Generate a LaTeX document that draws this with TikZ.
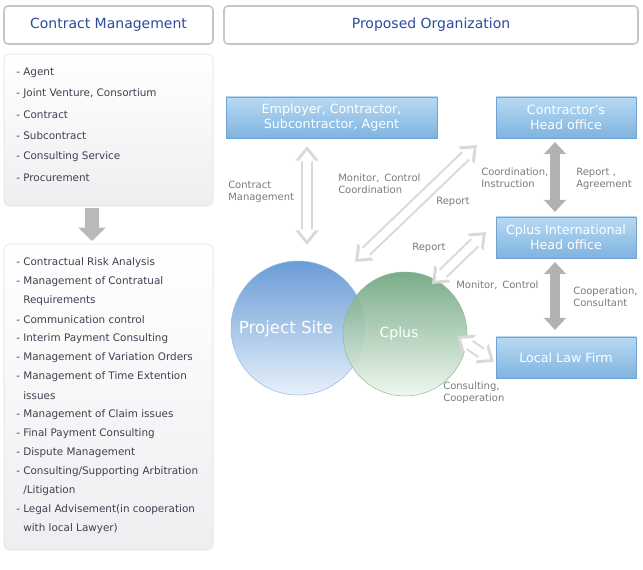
\documentclass[tikz,border=0pt]{standalone}
\usepackage{fontspec}
\setmainfont{DejaVu Sans}
\usetikzlibrary{arrows.meta,shadings}
\definecolor{hdr}{HTML}{2B4C9A}
\definecolor{lbl}{HTML}{7A7A7A}
\definecolor{txt}{HTML}{3A4250}
\definecolor{bbox}{HTML}{7FB3E0}
\definecolor{bboxtop}{HTML}{B8D9F2}
\definecolor{bedge}{HTML}{6FA3D3}
\definecolor{pstop}{HTML}{6A9CD6}
\definecolor{psbot}{HTML}{E6F0FA}
\definecolor{cptop}{HTML}{6FA57F}
\definecolor{cpbot}{HTML}{EEF6EE}
\begin{document}
\begin{tikzpicture}[x=0.75pt,y=-0.75pt,
  head/.style={draw=gray!45,line width=1.2pt,rounded corners=3pt,fill=white,text=hdr,font=\fontsize{10.5}{12}\selectfont},
  panel/.style={draw=gray!25,rounded corners=4pt,top color=white,bottom color=blue!8!gray!12},
  blu/.style={draw=bedge,top color=bboxtop,bottom color=bbox,text=white,font=\fontsize{9.5}{11}\selectfont,align=center},
  item/.style={anchor=west,text=txt,font=\fontsize{7.8}{9}\selectfont,inner sep=0},
  lab/.style={text=lbl,font=\fontsize{7.5}{9}\selectfont,align=left,inner sep=0},
  hollow/.style={line width=9pt,draw=gray!30,{Triangle[length=11pt,width=17pt]}-{Triangle[length=11pt,width=17pt]}},
  hollowin/.style={line width=6pt,draw=white,shorten <=3.5pt,shorten >=3.5pt,{Triangle[length=8pt,width=12pt]}-{Triangle[length=8pt,width=12pt]}},
  solidar/.style={line width=7pt,draw=gray!60,{Triangle[length=9pt,width=16pt]}-{Triangle[length=9pt,width=16pt]}}]
\useasboundingbox (0,0) rectangle (643,570);
\node[head,minimum width=209pt*0.75,minimum height=38pt*0.75] (h1) at (108.5,25) {Contract Management};
\node[head,minimum width=414pt*0.75,minimum height=38pt*0.75] (h2) at (431,25) {Proposed Organization};
\draw[panel] (4,54) rectangle (213,206);
\draw[panel] (4,244) rectangle (213,550);
\foreach \t [count=\i] in {Agent,{Joint Venture, Consortium},Contract,Subcontract,Consulting Service,Procurement}
  \node[item] (a\i) at (16,52+21*\i) {- \t};
\foreach \t [count=\i] in {Contractual Risk Analysis,Management of Contratual,\phantom{- }Requirements,Communication control,Interim Payment Consulting,Management of Variation Orders,Management of Time Extention,\phantom{- }issues,Management of Claim issues,Final Payment Consulting,Dispute Management,Consulting/Supporting Arbitration,\phantom{- }/Litigation,Legal Advisement(in cooperation,\phantom{- }with local Lawyer)}
  \node[item] (b\i) at (16,244+19*\i) {\ifnum\i=3\relax\else\ifnum\i=8\relax\else\ifnum\i=13\relax\else\ifnum\i=15\relax\else- \fi\fi\fi\fi\t};
\coordinate (dt) at (92,208); \coordinate (db) at (92,241);
\draw[line width=10pt,draw=gray!55,-{Triangle[length=10pt,width=20pt]}] (dt) -- (db);
% boxes
\node[blu,minimum width=211pt*0.75,minimum height=41pt*0.75] (emp) at (331.5,117.5) {Employer, Contractor,\\Subcontractor, Agent};
\node[blu,minimum width=140pt*0.75,minimum height=41pt*0.75] (con) at (566,117.5) {Contractor's\\Head office};
\node[blu,minimum width=140pt*0.75,minimum height=41pt*0.75] (cpi) at (566,237.5) {Cplus International\\Head office};
\node[blu,minimum width=140pt*0.75,minimum height=41pt*0.75] (law) at (566,357.5) {Local Law Firm};
% circles
\shade[top color=pstop,bottom color=psbot,draw=pstop!70] (298,328) circle[radius=67];
\node[text=white,font=\fontsize{12.5}{14}\selectfont] (ps) at (286,329) {Project Site};
\shade[top color=cptop,bottom color=cpbot,opacity=0.92,draw=cptop!80] (405,334) circle[radius=62];
\node[text=white,font=\fontsize{10.5}{12}\selectfont] (cp) at (399,334) {Cplus};
% hollow arrows
\coordinate (v1) at (307,146); \coordinate (v2) at (307,245);
\coordinate (d1) at (477,145); \coordinate (d2) at (355,262);
\coordinate (e1) at (486,232); \coordinate (e2) at (432,284);
\coordinate (f1) at (457,336); \coordinate (f2) at (494,362);
\foreach \p/\q in {v1/v2,d1/d2,e1/e2,f1/f2}{\draw[hollow] (\p)--(\q); \draw[hollowin] (\p)--(\q);}
\draw[solidar] (555,142) coordinate (c1) -- (555,212) coordinate (c2);
\draw[solidar] (555,262) coordinate (c3) -- (555,330) coordinate (c4);
% labels
\node[lab,anchor=west] (l1) at (228,192) {Contract\\Management};
\node[lab,anchor=west] (l2) at (338,184) {Monitor,\, Control\\Coordination};
\node[lab,anchor=west] (l3) at (436,202) {Report};
\node[lab,anchor=west] (l4) at (481,178) {Coordination,\\Instruction};
\node[lab,anchor=west] (l5) at (576,179) {Report\,\,,\\Agreement};
\node[lab,anchor=west] (l6) at (412,248) {Report};
\node[lab,anchor=west] (l7) at (456,285) {Monitor,\, Control};
\node[lab,anchor=west] (l8) at (573,297) {Cooperation,\\Consultant};
\node[lab,anchor=west] (l9) at (443,393) {Consulting,\\Cooperation};
\end{tikzpicture}
\end{document}
